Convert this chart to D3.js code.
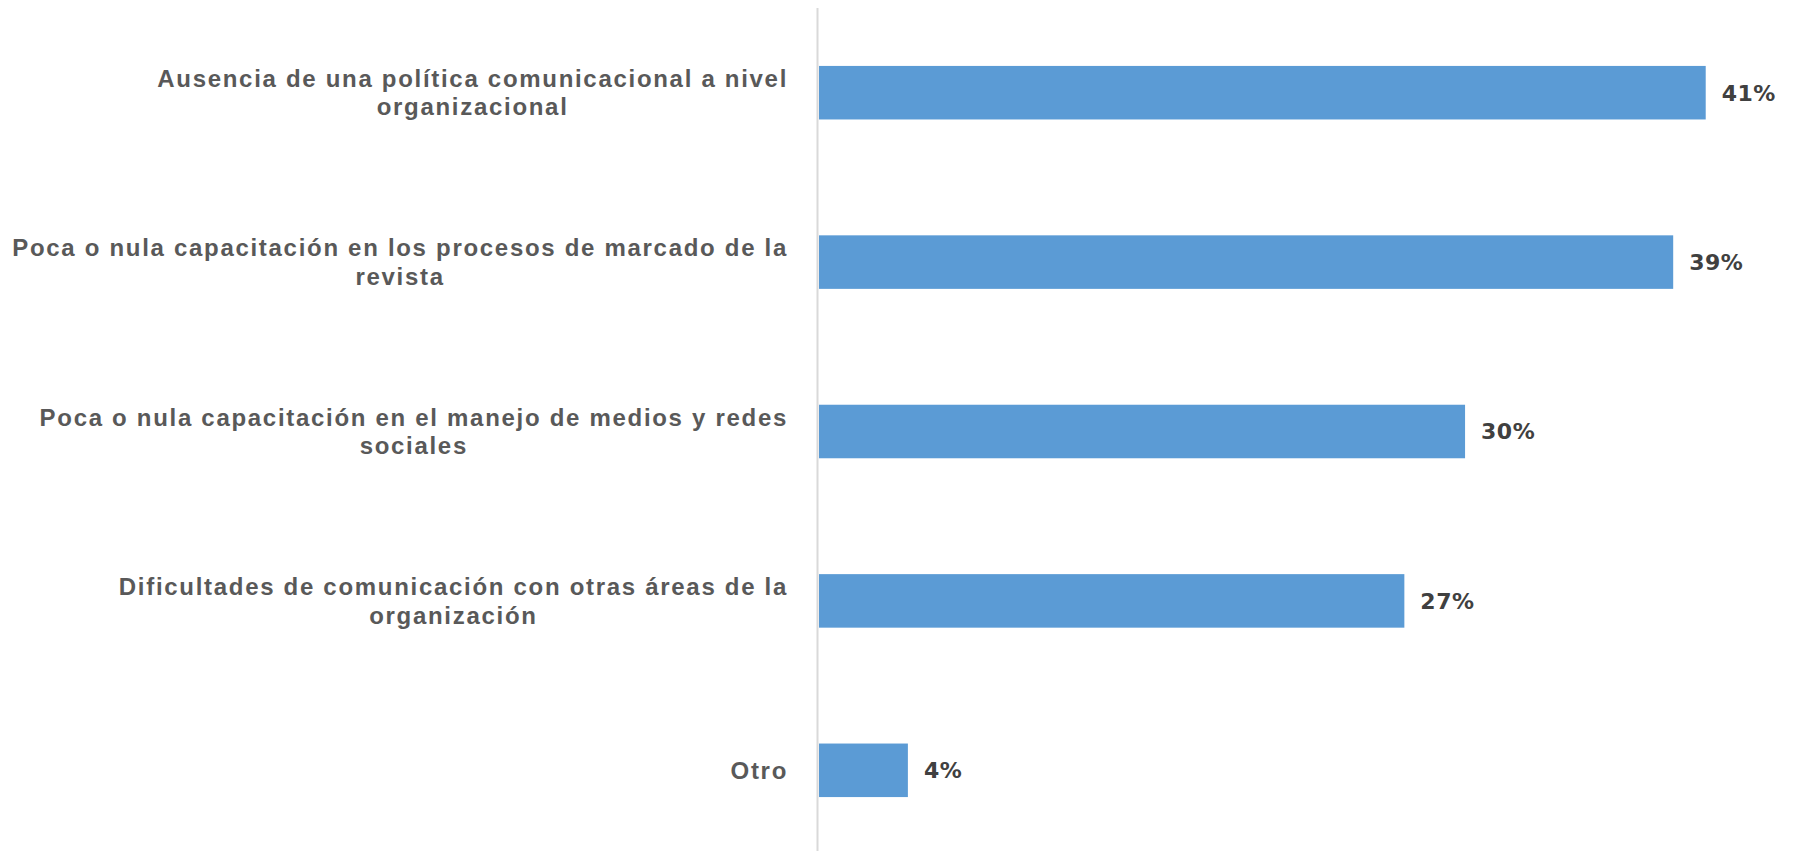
<!DOCTYPE html>
<html>
<head>
<meta charset="utf-8">
<script src="https://cdn.jsdelivr.net/npm/d3@7"></script>
<style>
  body { margin: 0; background: #ffffff; }
</style>
</head>
<body>
<svg width="1802" height="851"></svg>
<script>
// Categories (line breaks as in the original wrapped labels)
const categories = [
    "Ausencia de una política comunicacional a nivel\norganizacional",
    "Poca o nula capacitación en los procesos de marcado de la\nrevista",
    "Poca o nula capacitación en el manejo de medios y redes\nsociales",
    "Dificultades de comunicación con otras áreas de la\norganización",
    "Otro"
];

// Share of respondents
const values = [0.409, 0.394, 0.298, 0.270, 0.041];

// Set SVG dimensions
const width = 1802;
const height = 851;
const margin = { top: 8, right: 7, bottom: -4, left: 819 };

const svg = d3.select("svg");

const data = categories.map((c, i) => ({ category: c, value: values[i] }));

// Create x scale
const xScale = d3.scaleLinear()
    .domain([0, 0.45])
    .range([margin.left, margin.left + 0.45 * 2168]);

// Create y scale
const yScale = d3.scaleBand()
    .domain(categories)
    .range([margin.top, height - margin.bottom])
    .paddingInner(0.684)
    .paddingOuter(0.342);

// Bars
svg.selectAll("rect.bar")
    .data(data)
    .enter()
    .append("rect")
    .attr("class", "bar")
    .attr("x", xScale(0))
    .attr("y", d => yScale(d.category))
    .attr("width", d => xScale(d.value) - xScale(0))
    .attr("height", yScale.bandwidth())
    .attr("fill", "#5b9bd5");

// Vertical axis line
svg.append("line")
    .attr("x1", xScale(0) - 1.5)
    .attr("x2", xScale(0) - 1.5)
    .attr("y1", margin.top)
    .attr("y2", height)
    .attr("stroke", "#d9d9d9")
    .attr("stroke-width", 2);

// Value labels
const fmt = d3.format(".0%");
svg.selectAll("text.value")
    .data(data)
    .enter()
    .append("text")
    .attr("class", "value")
    .attr("x", d => xScale(d.value) + 16)
    .attr("y", d => yScale(d.category) + yScale.bandwidth() / 2)
    .attr("dy", "0.36em")
    .attr("font-family", "DejaVu Sans")
    .attr("font-weight", "bold")
    .attr("font-size", 22)
    .attr("letter-spacing", 0.5)
    .attr("fill", "#404040")
    .text(d => fmt(d.value));

// Category labels: block right-aligned to the axis, lines centred in block
const labelRight = 788;
const lineHeight = 28.5;
const labels = svg.selectAll("g.label")
    .data(data)
    .enter()
    .append("g")
    .attr("class", "label");

labels.each(function(d) {
    const g = d3.select(this);
    const lines = d.category.split("\n");
    const texts = lines.map((line, i) => g.append("text")
        .attr("font-family", "Liberation Sans")
        .attr("font-weight", "bold")
        .attr("font-size", 24)
        .attr("letter-spacing", 1.7)
        .attr("fill", "#595959")
        .attr("text-anchor", "middle")
        .attr("y", yScale(d.category) + yScale.bandwidth() / 2
            + (i - (lines.length - 1) / 2) * lineHeight)
        .attr("dy", "0.35em")
        .text(line));
    const maxW = d3.max(texts, t => t.node().getComputedTextLength());
    texts.forEach(t => t.attr("x", labelRight - maxW / 2));
});
</script>
</body>
</html>
